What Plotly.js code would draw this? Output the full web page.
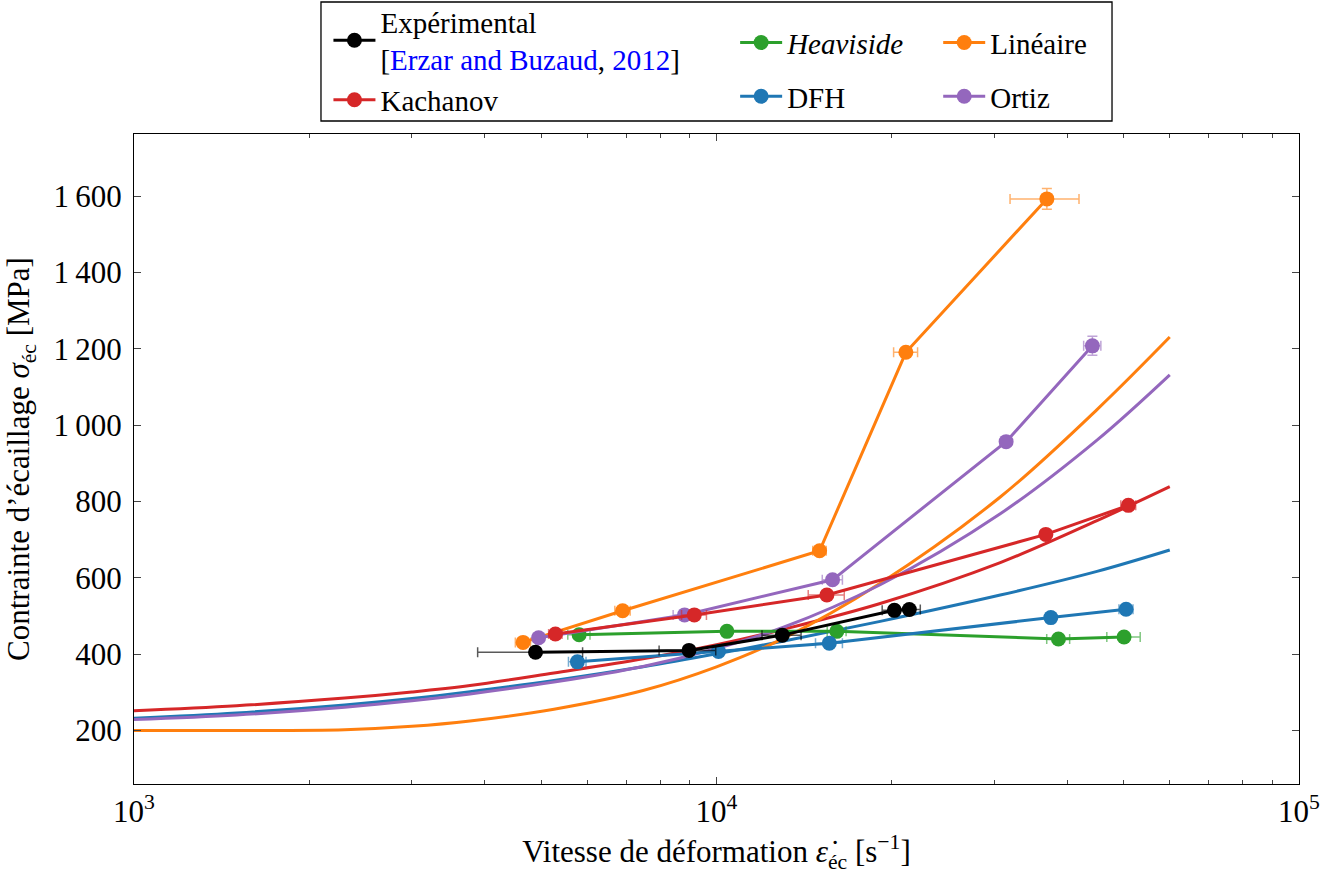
<!DOCTYPE html>
<html><head><meta charset="utf-8">
<script src="https://cdn.plot.ly/plotly-3.0.1.min.js"></script>
<style>html,body{margin:0;padding:0;background:#fff}#chart{width:1336px;height:874px}</style>
</head><body><div id="chart"></div>
<script>
// ---------- data ----------
// Experimental [Erzar and Buzaud, 2012]
var expX = [4890, 8970, 12970, 20200, 21430];
var expY = [405, 410, 450, 515, 517];
var expErrX = [1000, 1000, 1000, 950, 950];

// Kachanov
var kacX = [5290, 9160, 15470, 36760, 50940];
var kacY = [453, 503, 555, 714, 790];
var kacErrX = [140, 450, 1100, 300, 1500];
var kacErrY = [0, 0, 0, 0, 8];

// Heaviside
var heaX = [5810, 10420, 16090, 38640, 50080];
var heaY = [451, 460, 460, 440, 445];
var heaErrX = [255, 150, 600, 1750, 3300];

// DFH
var dfhX = [5770, 10080, 15620, 37490, 50480];
var dfhY = [380, 407, 429, 496, 518];
var dfhErrX = [200, 150, 830, 300, 1400];

// Linéaire
var linX = [4655, 6900, 15030, 21140, 36910];
var linY = [431, 514, 671, 1191, 1593];
var linErrX = [140, 210, 400, 1000, 5000];
var linErrY = [0, 8, 0, 8, 27];

// Ortiz
var ortX = [4950, 8815, 15820, 31420, 44190];
var ortY = [443, 503, 595, 957, 1208];
var ortErrX = [100, 390, 630, 300, 1500];
var ortErrY = [0, 0, 0, 8, 25];

// model curves (no markers)
var curveX   = [1000, 1500, 2300, 3000, 3775, 5260, 7480, 10000, 13000, 19100, 30700, 45000, 60000];
var curveKac = [252, 265, 285, 301, 318, 351, 388, 425, 465, 533, 640, 750, 839];
var curveDfh = [232, 246, 267, 284, 302, 331, 367, 401, 434, 486, 555, 617, 673];
var curveOrt = [229, 241, 261, 278, 296, 327, 368, 415, 470, 582, 768, 961, 1132];
var curveLin = [200, 200, 202, 211, 225, 256, 305, 367, 441, 586, 812, 1041, 1231];

// axis ticks
var yTickVals = [200, 400, 600, 800, 1000, 1200, 1400, 1600];
var yTickText = ['200', '400', '600', '800', '1\u2009000', '1\u2009200', '1\u2009400', '1\u2009600'];
var xTickVals = [1e3, 1e4, 1e5];
var xTickText = ['10<sup>3</sup>', '10<sup>4</sup>', '10<sup>5</sup>'];
var xMinorVals = [2000, 3000, 4000, 5000, 6000, 7000, 8000, 9000, 20000, 30000, 40000, 50000, 60000, 70000, 80000, 90000];

// ---------- styling ----------
var C = {exp: '#000000', kac: '#d62728', hea: '#2ca02c', dfh: '#1f77b4', lin: '#ff7f0e', ort: '#9467bd'};
var FONT = 'Liberation Serif, Times New Roman, serif';
var FS = 31;      // axis text
var LFS = 29;     // legend text

function errColor(hex, a) {
  var r = parseInt(hex.substr(1, 2), 16), g = parseInt(hex.substr(3, 2), 16), b = parseInt(hex.substr(5, 2), 16);
  return 'rgba(' + r + ',' + g + ',' + b + ',' + a + ')';
}

function curve(x, y, col) {
  return {x: x, y: y, type: 'scatter', mode: 'lines', line: {color: col, width: 3, shape: 'spline', smoothing: 1},
    showlegend: false, hoverinfo: 'skip'};
}

function series(name, x, y, ex, ey, col, legend, group, rank) {
  var t = {name: name, x: x, y: y, type: 'scatter', mode: 'lines+markers',
    line: {color: col, width: 3}, marker: {color: col, size: 15},
    error_x: {type: 'data', array: ex, visible: true, color: errColor(col, col === '#000000' ? 0.65 : 0.6), thickness: 1.5, width: 5},
    legend: legend, legendrank: rank};
  if (group) t.legendgroup = group;
  if (ey) t.error_y = {type: 'data', array: ey, visible: true, color: errColor(col, 0.6), thickness: 1.5, width: 5};
  return t;
}

var data = [
  curve(curveX, curveKac, C.kac),
  curve(curveX, curveDfh, C.dfh),
  curve(curveX, curveLin, C.lin),
  curve(curveX, curveOrt, C.ort),
  series('<i>Heaviside</i>', heaX, heaY, heaErrX, null, C.hea, 'legend2', 'g1', 1),
  series('DFH', dfhX, dfhY, dfhErrX, null, C.dfh, 'legend2', 'g2', 2),
  series('Linéaire', linX, linY, linErrX, linErrY, C.lin, 'legend3', 'g3', 1),
  series('Ortiz', ortX, ortY, ortErrX, ortErrY, C.ort, 'legend3', 'g4', 2),
  series('Kachanov', kacX, kacY, kacErrX, kacErrY, C.kac, 'legend', null, 2),
  series('Expérimental<br>[<span style="color:#0000ff">Erzar and Buzaud</span>, <span style="color:#0000ff">2012</span>]',
         expX, expY, expErrX, null, C.exp, 'legend', null, 1)
];

var legendBase = {font: {family: FONT, size: LFS, color: '#000'}, bgcolor: 'rgba(0,0,0,0)', borderwidth: 0,
  orientation: 'v', xanchor: 'left', yanchor: 'top', itemwidth: 42, itemclick: false, itemdoubleclick: false};

function leg(x, y, extra) {
  var o = {};
  for (var k in legendBase) o[k] = legendBase[k];
  o.x = x; o.y = y;
  for (var k2 in (extra || {})) o[k2] = extra[k2];
  return o;
}

var layout = {
  width: 1336, height: 874,
  margin: {l: 134, r: 37, t: 134, b: 90, autoexpand: false},
  paper_bgcolor: '#fff', plot_bgcolor: '#fff',
  font: {family: FONT, size: FS, color: '#000'},
  showlegend: true,
  xaxis: {
    type: 'log', range: [3, 5],
    tickmode: 'array', tickvals: xTickVals, ticktext: xTickText,
    ticks: 'inside', ticklen: 7, tickwidth: 1, tickcolor: '#444',
    minor: {tickmode: 'array', tickvals: xMinorVals, ticks: 'inside', ticklen: 4, tickwidth: 1, tickcolor: '#444', showgrid: false},
    showline: true, linecolor: '#000', linewidth: 1, mirror: 'ticks',
    showgrid: false, zeroline: false, automargin: false, ticklabelstandoff: 0,
    tickfont: {family: FONT, size: FS},
    title: {text: 'Vitesse de déformation <i>ε̇</i><sub>éc</sub> [s<sup>−1</sup>]', font: {family: FONT, size: FS}, standoff: 18}
  },
  yaxis: {
    range: [60, 1763],
    tickmode: 'array', tickvals: yTickVals, ticktext: yTickText,
    ticks: 'inside', ticklen: 7, tickwidth: 1, tickcolor: '#444',
    showline: true, linecolor: '#000', linewidth: 1, mirror: 'ticks',
    showgrid: false, zeroline: false, automargin: false, ticklabelstandoff: 5,
    tickfont: {family: FONT, size: FS},
    title: {text: 'Contrainte d’écaillage <i>σ</i><sub>éc</sub> [MPa]', font: {family: FONT, size: FS}, standoff: 14}
  },
  legend: leg(0.1669, 1.2123, {traceorder: 'normal'}),
  legend2: leg(0.516, 1.1797, {traceorder: 'grouped', tracegroupgap: 13}),
  legend3: leg(0.6903, 1.1797, {traceorder: 'grouped', tracegroupgap: 13}),
  shapes: [{type: 'rect', xref: 'paper', yref: 'paper', x0: 0.1605, x1: 0.8395, y0: 1.02, y1: 1.2031,
            line: {color: '#000', width: 1.3}, fillcolor: 'rgba(0,0,0,0)', layer: 'above'}]
};

Plotly.newPlot('chart', data, layout, {staticPlot: true, displayModeBar: false});
</script></body></html>
